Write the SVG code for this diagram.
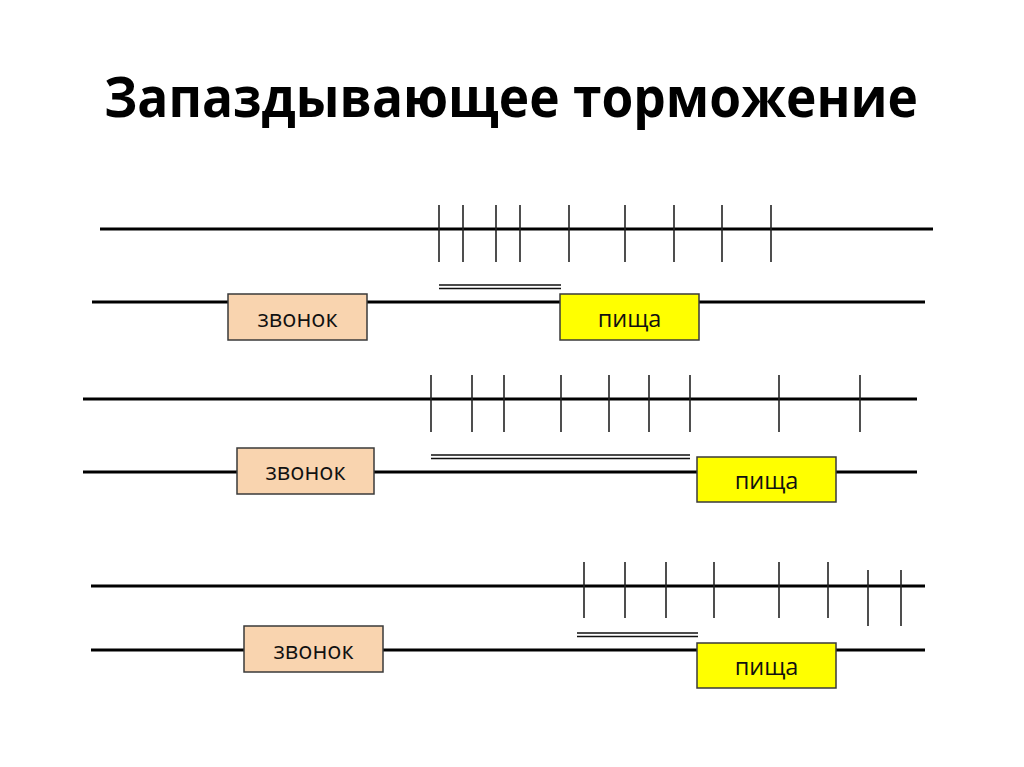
<svg xmlns="http://www.w3.org/2000/svg" width="1024" height="767" viewBox="0 0 1024 767">
<style>
.bg{fill:#ffffff}
.title{font-family:"Open Sans","Liberation Sans",Arial,sans-serif;font-weight:bold;font-size:56px;fill:#000}
.axis{stroke:#000;stroke-width:3.2;fill:none}
.tick{stroke:#222;stroke-width:1.6;fill:none}
.dbl{stroke:#111;stroke-width:1.3;fill:none}
.bell{fill:#F9D4AF;stroke:#3a3a3a;stroke-width:1.5}
.food{fill:#FFFF00;stroke:#3a3a3a;stroke-width:1.5}
.lbl{font-family:"Open Sans","Liberation Sans",sans-serif;font-size:23.5px;fill:#111;text-anchor:middle}
</style>
<rect class="bg" width="1024" height="767"/>
<text id="title" class="title" x="104" y="117" textLength="814" lengthAdjust="spacingAndGlyphs">Запаздывающее торможение</text>

<g id="connectors">
  <!-- Section 1 -->
  <line class="axis" x1="100" y1="229" x2="933" y2="229"/>
  <line class="axis" x1="92" y1="302" x2="925" y2="302"/>
  <g class="tick">
    <line x1="439" y1="205" x2="439" y2="262"/>
    <line x1="463" y1="205" x2="463" y2="262"/>
    <line x1="496" y1="205" x2="496" y2="262"/>
    <line x1="520" y1="205" x2="520" y2="262"/>
    <line x1="569" y1="205" x2="569" y2="262"/>
    <line x1="625" y1="205" x2="625" y2="262"/>
    <line x1="674" y1="205" x2="674" y2="262"/>
    <line x1="722" y1="205" x2="722" y2="262"/>
    <line x1="771" y1="205" x2="771" y2="262"/>
  </g>
  <line class="dbl" x1="439" y1="285" x2="561" y2="285"/>
  <line class="dbl" x1="439" y1="288.5" x2="561" y2="288.5"/>

  <!-- Section 2 -->
  <line class="axis" x1="83" y1="399" x2="917" y2="399"/>
  <line class="axis" x1="83" y1="472" x2="917" y2="472"/>
  <g class="tick">
    <line x1="431" y1="375" x2="431" y2="432"/>
    <line x1="472" y1="375" x2="472" y2="432"/>
    <line x1="504" y1="375" x2="504" y2="432"/>
    <line x1="561" y1="375" x2="561" y2="432"/>
    <line x1="609" y1="375" x2="609" y2="432"/>
    <line x1="649" y1="375" x2="649" y2="432"/>
    <line x1="690" y1="375" x2="690" y2="432"/>
    <line x1="779" y1="375" x2="779" y2="432"/>
    <line x1="860" y1="375" x2="860" y2="432"/>
  </g>
  <line class="dbl" x1="431" y1="455" x2="690" y2="455"/>
  <line class="dbl" x1="431" y1="458.5" x2="690" y2="458.5"/>

  <!-- Section 3 -->
  <line class="axis" x1="91" y1="586" x2="925" y2="586"/>
  <line class="axis" x1="91" y1="650" x2="925" y2="650"/>
  <g class="tick">
    <line x1="584" y1="562" x2="584" y2="618"/>
    <line x1="625" y1="562" x2="625" y2="618"/>
    <line x1="666" y1="562" x2="666" y2="618"/>
    <line x1="714" y1="562" x2="714" y2="618"/>
    <line x1="779" y1="562" x2="779" y2="618"/>
    <line x1="828" y1="562" x2="828" y2="618"/>
    <line x1="868" y1="570" x2="868" y2="626"/>
    <line x1="901" y1="570" x2="901" y2="626"/>
  </g>
  <line class="dbl" x1="577" y1="633" x2="698" y2="633"/>
  <line class="dbl" x1="577" y1="636.5" x2="698" y2="636.5"/>
</g>

<g id="bell1">
  <rect class="bell" x="228" y="294" width="139" height="46"/>
  <text class="lbl" x="297.5" y="327">звонок</text>
</g>
<g id="food1">
  <rect class="food" x="560" y="294" width="139" height="46"/>
  <text class="lbl" x="629.5" y="327">пища</text>
</g>
<g id="bell2">
  <rect class="bell" x="237" y="448" width="137" height="46"/>
  <text class="lbl" x="305.5" y="480">звонок</text>
</g>
<g id="food2">
  <rect class="food" x="697" y="457" width="139" height="45"/>
  <text class="lbl" x="766.5" y="489">пища</text>
</g>
<g id="bell3">
  <rect class="bell" x="244" y="626" width="139" height="46"/>
  <text class="lbl" x="313.5" y="659">звонок</text>
</g>
<g id="food3">
  <rect class="food" x="697" y="643" width="139" height="45"/>
  <text class="lbl" x="766.5" y="675">пища</text>
</g>
</svg>
